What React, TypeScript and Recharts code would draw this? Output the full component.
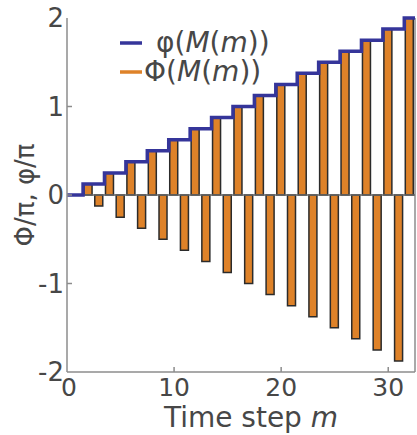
import React from 'react';
import { ComposedChart, Bar, Line, XAxis, YAxis, ReferenceLine, Legend } from 'recharts';

// time step m (33 is only there so the stair line runs to the frame edge)
const timeSteps = [0, 1, 2, 3, 4, 5, 6, 7, 8, 9, 10, 11, 12, 13, 14, 15, 16, 17, 18, 19, 20, 21, 22, 23, 24, 25, 26, 27, 28, 29, 30, 31, 32, 33];

// φ(M(m)) / π
const phiValues = [
  0, 0, 0.125, 0.125, 0.25, 0.25, 0.375, 0.375, 0.5, 0.5, 0.625, 0.625, 0.75, 0.75, 0.875, 0.875,
  1, 1, 1.125, 1.125, 1.25, 1.25, 1.375, 1.375, 1.5, 1.5, 1.625, 1.625, 1.75, 1.75, 1.875, 1.875, 2, 2,
];

// Φ(M(m)) / π
const bigPhiValues = [
  0, 0, 0.125, -0.125, 0.25, -0.25, 0.375, -0.375, 0.5, -0.5, 0.625, -0.625, 0.75, -0.75, 0.875, -0.875,
  1, -1, 1.125, -1.125, 1.25, -1.25, 1.375, -1.375, 1.5, -1.5, 1.625, -1.625, 1.75, -1.75, 1.875, -1.875, 2, null,
];

const xTicks = [0, 10, 20, 30];
const topTicks = [10, 20, 30];
const yTicks = [-2, -1, 0, 1, 2];

const data = timeSteps.map((m, i) => ({ m, phi: phiValues[i], Phi: bigPhiValues[i] }));

const FONT = '"DejaVu Sans", sans-serif';
const TEXT = '#474747';
const FRAME = '#8c8c8c';
const BLUE = '#35359a';
const ORANGE = '#de8229';

const XTick = (props: any) => {
  const { x, y, payload } = props;
  return (
    <g>
      {payload.value !== 0 && <line x1={x} y1={y} x2={x} y2={y - 5} stroke={FRAME} strokeWidth={1.5} />}
      <text x={x + (payload.value === 0 ? 2 : 0)} y={y + 24} textAnchor="middle" fontSize={25} fontFamily={FONT} fill={TEXT}>
        {payload.value}
      </text>
    </g>
  );
};

const TopTick = (props: any) => {
  const { x, y } = props;
  return <line x1={x} y1={y} x2={x} y2={y + 5} stroke={FRAME} strokeWidth={1.5} />;
};

const YTick = (props: any) => {
  const { x, y, payload } = props;
  return (
    <g>
      {Math.abs(payload.value) !== 2 && <line x1={x} y1={y} x2={x + 5} y2={y} stroke={FRAME} strokeWidth={1.5} />}
      <text x={x - 3} y={y} dy="0.36em" textAnchor="end" fontSize={26} fontFamily={FONT} fill={TEXT}>
        {payload.value}
      </text>
    </g>
  );
};

const legendRow = (color: string, symbol: string, gap: number) => (
  <div style={{ display: 'flex', alignItems: 'center', height: 29 }}>
    <svg width={22} height={10}>
      <line x1={0} y1={5} x2={22} y2={5} stroke={color} strokeWidth={3.5} />
    </svg>
    <span style={{ marginLeft: gap, fontSize: 28, fontFamily: FONT, color: TEXT, lineHeight: '29px' }}>
      {symbol}(<i>M</i>(<i>m</i>))
    </span>
  </div>
);

const renderLegend = () => (
  <div>
    {legendRow(BLUE, 'φ', 14)}
    {legendRow(ORANGE, 'Φ', 2)}
  </div>
);

export default function App() {
  return (
    <div style={{ position: 'fixed', left: 0, top: 0, background: '#fff' }}>
      <ComposedChart width={417} height={435} data={data} margin={{ top: 18, right: 2, bottom: 0, left: 0 }}>
        <XAxis
          dataKey="m"
          type="number"
          domain={[0, 32.5]}
          allowDataOverflow
          ticks={xTicks}
          tickLine={false}
          tickSize={0}
          tickMargin={0}
          tick={<XTick />}
          axisLine={{ stroke: FRAME, strokeWidth: 1.5 }}
          height={63}
          label={{
            content: () => (
              <text x={251} y={427} textAnchor="middle" fontSize={28} fontFamily={FONT} fill={TEXT}>
                Time step <tspan fontStyle="italic">m</tspan>
              </text>
            ),
          }}
        />
        <XAxis
          xAxisId="top"
          orientation="top"
          dataKey="m"
          type="number"
          domain={[0, 32.5]}
          allowDataOverflow
          ticks={topTicks}
          tickLine={false}
          tickSize={0}
          tickMargin={0}
          tick={<TopTick />}
          axisLine={{ stroke: FRAME, strokeWidth: 1.5 }}
          height={0}
        />
        <YAxis
          type="number"
          domain={[-2, 2]}
          ticks={yTicks}
          tickLine={false}
          tickSize={0}
          tickMargin={0}
          tick={<YTick />}
          axisLine={{ stroke: FRAME, strokeWidth: 1.5 }}
          width={67}
          label={{
            content: () => (
              <text
                x={25}
                y={195}
                transform="rotate(-90, 25, 195)"
                textAnchor="middle"
                dominantBaseline="central"
                fontSize={26}
                fontFamily={FONT}
                fill={TEXT}
              >
                Φ/π, φ/π
              </text>
            ),
          }}
        />
        <ReferenceLine x={32.5} stroke={FRAME} strokeWidth={1.5} />
        <ReferenceLine y={0} stroke="#666" strokeWidth={1.5} />
        <Legend
          layout="horizontal"
          verticalAlign="middle"
          align="center"
          content={renderLegend}
          wrapperStyle={{ left: 120, top: 28, width: 'auto', height: 'auto' }}
        />
        <Bar dataKey="Phi" barSize={8} fill={ORANGE} stroke="#2b2b2b" strokeWidth={1.5} isAnimationActive={false} />
        <Line
          dataKey="phi"
          type="step"
          stroke={BLUE}
          strokeWidth={3.5}
          dot={false}
          activeDot={false}
          isAnimationActive={false}
        />
      </ComposedChart>
    </div>
  );
}
